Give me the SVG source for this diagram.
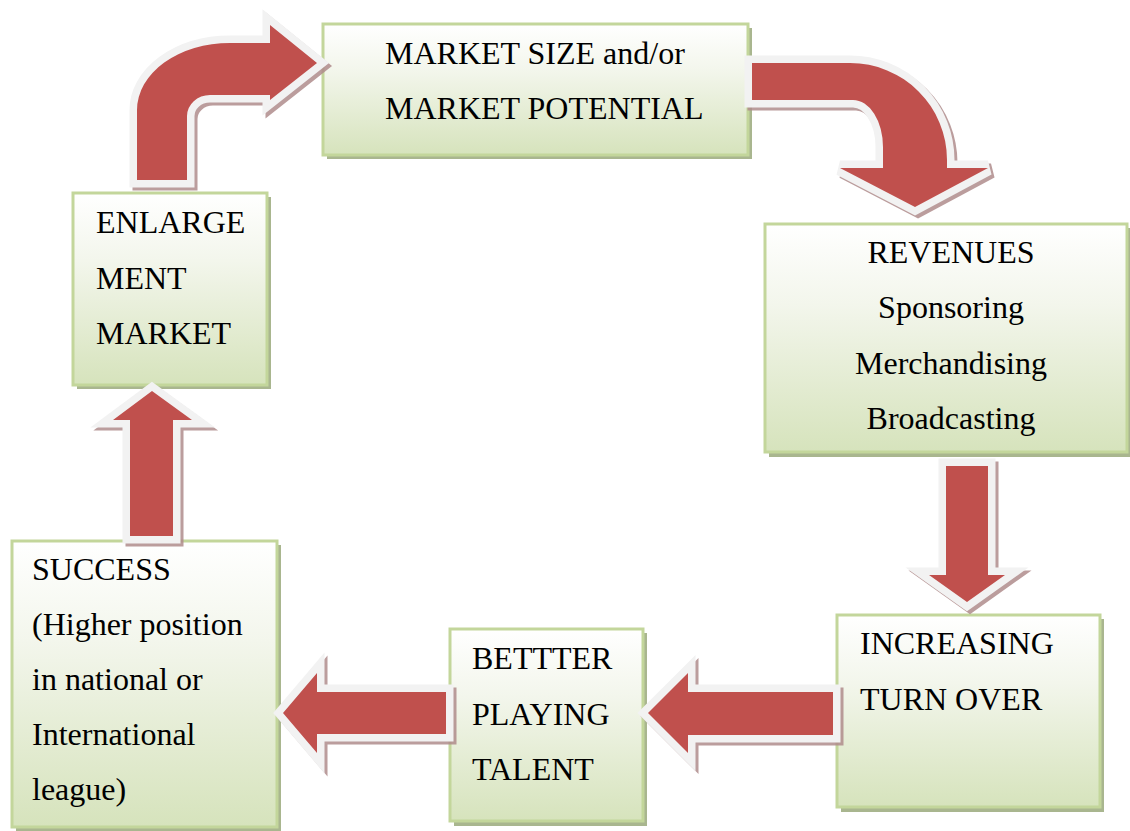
<svg xmlns="http://www.w3.org/2000/svg" xmlns:xlink="http://www.w3.org/1999/xlink" width="1130" height="831" viewBox="0 0 1130 831">
<style>
.box{fill:url(#g);stroke:#c3d69b;stroke-width:3}
.bsh{fill:#a9b68f}
.t{font-family:"Liberation Serif","Times New Roman",serif;font-size:32px;fill:#000}
.c{text-anchor:middle}
.ar{fill:#c0504d;stroke:#f2f2f2;stroke-width:15;stroke-linejoin:miter;stroke-miterlimit:4;paint-order:stroke}
.ash{fill:#b08c8c;stroke:#b08c8c;stroke-width:15;stroke-linejoin:miter;stroke-miterlimit:4;opacity:0.85}
</style>
<defs>
<linearGradient id="g" x1="0" y1="0" x2="0" y2="1">
<stop offset="0" stop-color="#ffffff"/>
<stop offset="0.35" stop-color="#f3f6ec"/>
<stop offset="1" stop-color="#d6e3bc"/>
</linearGradient>
<path id="p1" d="M137,180 L137,110 A93,67 0 0 1 230,43 L270,43 L270,25 L317,63 L270,100 L270,95 L210,95 A23,21 0 0 0 187,116 L187,180 Z"/>
<path id="p2" d="M752,63 L850,63 A97,97 0 0 1 947,160 L947,168 L988,168 L915,207 L840,168 L883,168 L883,147 A30,47 0 0 0 853,100 L752,100 Z"/>
<path id="p3" d="M946,466 L988,466 L988,575 L1005,575 L967,602 L929,575 L946,575 Z"/>
<path id="p4" d="M833,692 L833,735 L688,735 L688,753 L648,713 L688,673 L688,692 Z"/>
<path id="p5" d="M446,692 L446,734 L317,734 L317,753 L283,713 L317,673 L317,692 Z"/>
<path id="p6" d="M130,536 L130,420 L113,420 L152,391 L192,420 L173,420 L173,536 Z"/>
</defs>
<rect width="1130" height="831" fill="#fff"/>

<g id="market-size">
<rect class="bsh" x="327" y="28" width="425" height="131"/>
<rect class="box" x="323" y="24" width="425" height="131"/>
<text class="t" x="385" y="64">MARKET SIZE and/or</text>
<text class="t" x="385" y="119">MARKET POTENTIAL</text>
</g>

<g id="revenues">
<rect class="bsh" x="769" y="228" width="365" height="229"/>
<rect class="box" x="765" y="224" width="362" height="228"/>
<text class="t c" x="951" y="263">REVENUES</text>
<text class="t c" x="951" y="318">Sponsoring</text>
<text class="t c" x="951" y="374">Merchandising</text>
<text class="t c" x="951" y="429">Broadcasting</text>
</g>

<g id="increasing">
<rect class="bsh" x="841" y="619" width="263" height="193"/>
<rect class="box" x="837" y="615" width="263" height="192"/>
<text class="t" x="860" y="654">INCREASING</text>
<text class="t" x="860" y="710">TURN OVER</text>
</g>

<g id="better">
<rect class="bsh" x="454" y="633" width="193" height="193"/>
<rect class="box" x="450" y="629" width="193" height="192"/>
<text class="t" x="472" y="669">BETTTER</text>
<text class="t" x="472" y="725">PLAYING</text>
<text class="t" x="472" y="780">TALENT</text>
</g>

<g id="success">
<rect class="bsh" x="16" y="545" width="265" height="287"/>
<rect class="box" x="12" y="541" width="265" height="286"/>
<text class="t" x="32" y="580">SUCCESS</text>
<text class="t" x="32" y="635">(Higher position</text>
<text class="t" x="32" y="690">in national or</text>
<text class="t" x="32" y="745">International</text>
<text class="t" x="32" y="800">league)</text>
</g>

<g id="enlargement">
<rect class="bsh" x="77" y="197" width="194" height="192"/>
<rect class="box" x="73" y="193" width="194" height="192"/>
<text class="t" x="96" y="233">ENLARGE</text>
<text class="t" x="96" y="289">MENT</text>
<text class="t" x="96" y="344">MARKET</text>
</g>

<g id="connectors">
<use xlink:href="#p1" href="#p1" class="ash" transform="translate(3,3)"/>
<use xlink:href="#p1" href="#p1" class="ar"/>
<use xlink:href="#p2" href="#p2" class="ash" transform="translate(3,3)"/>
<use xlink:href="#p2" href="#p2" class="ar"/>
<use xlink:href="#p3" href="#p3" class="ash" transform="translate(3,3)"/>
<use xlink:href="#p3" href="#p3" class="ar"/>
<use xlink:href="#p4" href="#p4" class="ash" transform="translate(3,3)"/>
<use xlink:href="#p4" href="#p4" class="ar"/>
<use xlink:href="#p5" href="#p5" class="ash" transform="translate(3,3)"/>
<use xlink:href="#p5" href="#p5" class="ar"/>
<use xlink:href="#p6" href="#p6" class="ash" transform="translate(3,3)"/>
<use xlink:href="#p6" href="#p6" class="ar"/>
</g>
</svg>
